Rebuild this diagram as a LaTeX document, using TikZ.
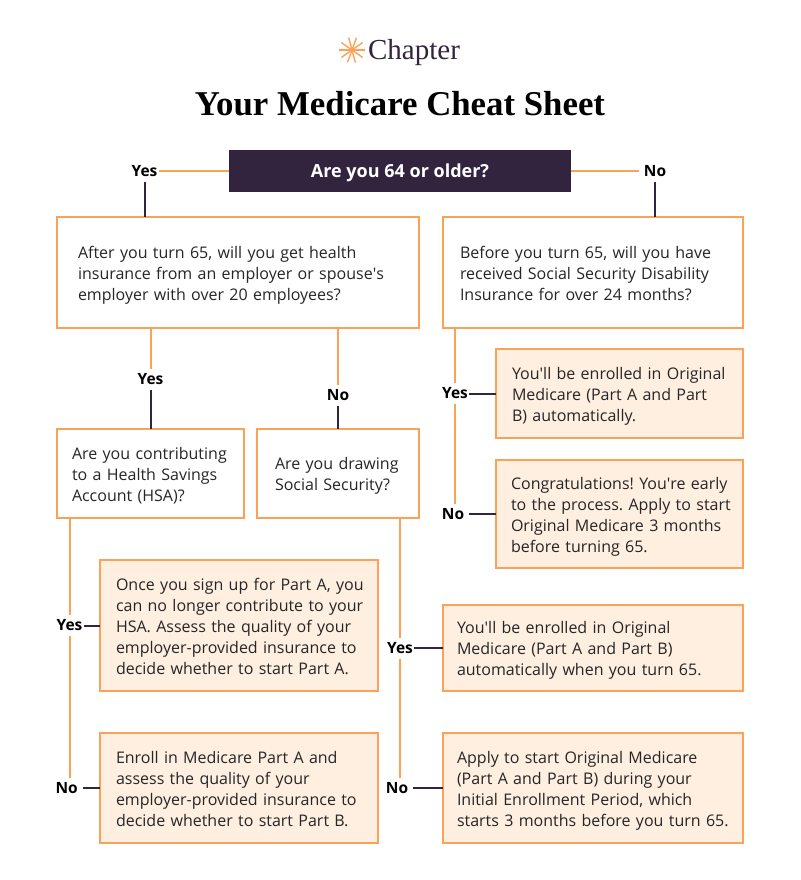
\documentclass[tikz,border=0pt]{standalone}
\usepackage{fontspec}
\setmainfont{Open Sans}
\newfontfamily\headfont{Liberation Serif}
\usetikzlibrary{positioning}
\usepackage{xcolor}
\definecolor{plum}{HTML}{32243F}
\definecolor{peach}{HTML}{FCA258}
\definecolor{cream}{HTML}{FEEFE1}
\frenchspacing
\newcommand{\apos}{\textquotesingle}

\begin{document}
\begin{tikzpicture}[
    x=1pt, y=1pt,
    outer sep=0pt,
    askbox/.style={rectangle, draw=peach, line width=2pt, fill=white, align=left, inner ysep=0pt, font=\fontsize{16}{21}\selectfont, text=black!85, execute at begin node={\hsize=\dimexpr\hsize+20pt\relax\rule{0pt}{20pt}}, execute at end node={\strut}},
    endbox/.style={askbox, fill=cream},
    answer/.style={inner xsep=0pt, inner ysep=0pt, minimum height=21pt, align=center, font=\fontsize{15.5}{16}\selectfont\bfseries},
    yeslabel/.style={answer, minimum width=28pt},
    nolabel/.style={answer, minimum width=32pt},
    peachline/.style={draw=peach, line width=2pt},
    plumline/.style={draw=plum, line width=2pt}
]
\useasboundingbox (0,0) rectangle (800,-880);

% header
\coordinate (star) at (352,-50);
\foreach \a in {0,35,70,105,145,180,215,250,285,325} {
    \draw[draw=peach, line width=1.4pt] (star) -- ++(\a:13);
}
\node[text=plum, font=\headfont\fontsize{29}{30}\selectfont] (brand) at (414,-53) {Chapter};
\node[font=\headfont\fontsize{34.8}{36}\selectfont\bfseries] (title) at (400,-104) {Your Medicare Cheat Sheet};

% questions
\node[rectangle, fill=plum, text=white, minimum width=342pt, minimum height=42pt, text height=12pt, text depth=0pt, font=\fontsize{18}{20}\selectfont\bfseries] (start) at (400,-171) {Are you 64 or older?};
\node[askbox, below=25pt of start, xshift=-162pt, text width=320pt, inner xsep=21pt, minimum height=111pt] (work) {After you turn 65, will you get health\\insurance from an employer or spouse\apos s\\employer with over 20 employees?};
\node[askbox, below=25pt of start, xshift=193pt, text width=266pt, inner xsep=17pt, minimum height=111pt] (disab) {Before you turn 65, will you have\\received Social Security Disability\\Insurance for over 24 months?};
\node[askbox, below=101pt of work, xshift=-87.5pt, text width=157pt, inner xsep=15pt, minimum height=89pt] (hsa) {Are you contributing\\to a Health Savings\\Account (HSA)?};
\node[askbox, below=101pt of work, xshift=100pt, text width=126pt, inner xsep=18pt, minimum height=89pt] (social) {Are you drawing\\Social Security?};

% results
\node[endbox, below=21pt of disab, xshift=26.5pt, text width=215pt, inner xsep=16pt, minimum height=89pt] (autoA) {You\apos ll be enrolled in Original\\Medicare (Part A and Part\\B) automatically.};
\node[endbox, below=22pt of autoA, text width=217pt, inner xsep=15pt, minimum height=108pt] (early) {Congratulations! You\apos re early\\to the process. Apply to start\\Original Medicare 3 months\\before turning 65.};
\node[endbox, below=42pt of hsa, xshift=88.5pt, text width=246pt, inner xsep=16pt, minimum height=131pt] (partA) {Once you sign up for Part A, you\\can no longer contribute to your\\HSA. Assess the quality of your\\employer-provided insurance to\\decide whether to start Part A.};
\node[endbox, below=42pt of partA, text width=246pt, inner xsep=16pt, minimum height=110pt] (partB) {Enroll in Medicare Part A and\\assess the quality of your\\employer-provided insurance to\\decide whether to start Part B.};
\node[endbox, below=37pt of early, xshift=-26.5pt, text width=272pt, inner xsep=14pt, minimum height=86pt] (autoB) {You\apos ll be enrolled in Original\\Medicare (Part A and Part B)\\automatically when you turn 65.};
\node[endbox, below=42pt of autoB, text width=272pt, inner xsep=14pt, minimum height=110pt] (apply) {Apply to start Original Medicare\\(Part A and Part B) during your\\Initial Enrollment Period, which\\starts 3 months before you turn 65.};

% answers
\node[yeslabel, left=70.5pt of start] (yesStart) {Yes};
\node[nolabel, right=68pt of start] (noStart) {No};
\node[yeslabel, above=39pt of hsa] (yesWork) {Yes};
\node[nolabel, above=23pt of social] (noWork) {No};
\node[yeslabel, left=27pt of autoA] (yesDisab) {Yes};
\node[nolabel, left=27pt of early] (noDisab) {No};
\node[yeslabel, left=16.5pt of partA] (yesHsa) {Yes};
\node[nolabel, left=17.3pt of partB] (noHsa) {No};
\node[yeslabel, left=29pt of autoB] (yesSocial) {Yes};
\node[nolabel, left=30pt of apply] (noSocial) {No};

% connectors
\draw[peachline] (start) -- (yesStart);
\draw[peachline] (start) -- (noStart);
\draw[plumline] (yesStart) -- (yesStart |- work.north);
\draw[plumline] (noStart) -- (noStart |- disab.north);
\draw[peachline] (yesWork |- work.south) -- (yesWork);
\draw[plumline] (yesWork) -- (hsa);
\draw[peachline] (noWork |- work.south) -- (noWork);
\draw[plumline] (noWork) -- (social);
\draw[peachline] (yesDisab |- disab.south) -- (yesDisab);
\draw[plumline] (yesDisab) -- (autoA);
\draw[peachline] (yesDisab) -- (yesDisab |- noDisab.north);
\draw[plumline] (noDisab) -- (early);
\draw[peachline] (yesHsa |- hsa.south) -- (yesHsa);
\draw[plumline] (yesHsa) -- (partA);
\draw[peachline] (yesHsa) -- (yesHsa |- noHsa.north);
\draw[plumline] (noHsa) -- (partB);
\draw[peachline] (yesSocial |- social.south) -- (yesSocial);
\draw[plumline] (yesSocial) -- (autoB);
\draw[peachline] (yesSocial) -- (yesSocial |- noSocial.north);
\draw[plumline] (noSocial) -- (apply);

\end{tikzpicture}
\end{document}
